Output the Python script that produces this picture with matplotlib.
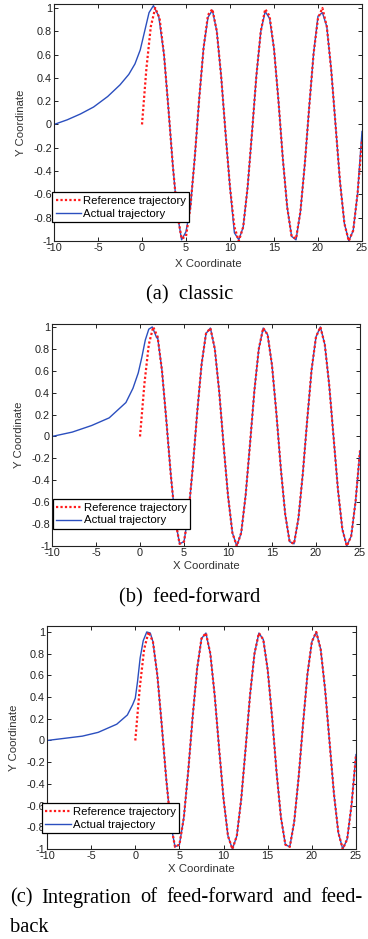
import numpy as np
import matplotlib.pyplot as plt

plt.rcParams['font.family'] = ['Liberation Sans', 'DejaVu Sans']
plt.rcParams['axes.unicode_minus'] = False

# reference trajectory (shared by all three panels)
ref_x = [0.0, 0.5, 1.0, 1.5, 2.0, 2.5, 3.0, 3.5, 4.0, 4.5, 5.0, 5.5, 6.0, 6.5, 7.0, 7.5,
         8.0, 8.5, 9.0, 9.5, 10.0, 10.5, 11.0, 11.5, 12.0, 12.5, 13.0, 13.5, 14.0, 14.5,
         15.0, 15.5, 16.0, 16.5, 17.0, 17.5, 18.0, 18.5, 19.0, 19.5, 20.0, 20.5, 21.0,
         21.5, 22.0, 22.5, 23.0, 23.5, 24.0, 24.5, 25.0]
ref_y = [0.00, 0.48, 0.84, 1.00, 0.91, 0.60, 0.14, -0.35, -0.76, -0.98, -0.96, -0.71,
         -0.28, 0.22, 0.66, 0.94, 0.99, 0.80, 0.41, -0.08, -0.54, -0.88, -1.00, -0.88,
         -0.54, -0.07, 0.42, 0.80, 0.99, 0.93, 0.65, 0.21, -0.29, -0.71, -0.96, -0.98,
         -0.75, -0.34, 0.15, 0.61, 0.91, 1.00, 0.84, 0.47, -0.01, -0.49, -0.85, -1.00,
         -0.91, -0.59, -0.13]

# actual trajectories: transient part, then tracking part
act_a_x = [-10, -8.5, -7, -5.5, -3.9, -2.5, -1.5, -0.8, -0.2, 0.3, 0.8, 1.3, 1.9, 2.5,
           3.0, 3.5, 4.0, 4.5, 5.0, 5.5, 6.0, 6.5, 7.0, 7.5, 8.0, 8.5, 9.0, 9.5, 10.0,
           10.5, 11.0, 11.5, 12.0, 12.5, 13.0, 13.5, 14.0, 14.5, 15.0, 15.5, 16.0, 16.5,
           17.0, 17.5, 18.0, 18.5, 19.0, 19.5, 20.0, 20.5, 21.0, 21.5, 22.0, 22.5, 23.0,
           23.5, 24.0, 24.5, 25.0]
act_a_y = [0.00, 0.04, 0.09, 0.15, 0.24, 0.34, 0.43, 0.52, 0.64, 0.80, 0.96, 1.02, 0.93,
           0.60, 0.14, -0.35, -0.76, -0.99, -0.92, -0.71, -0.28, 0.22, 0.66, 0.92, 0.98,
           0.80, 0.41, -0.08, -0.54, -0.93, -0.99, -0.88, -0.54, -0.07, 0.42, 0.80, 0.97,
           0.91, 0.65, 0.21, -0.29, -0.71, -0.96, -0.99, -0.75, -0.34, 0.15, 0.61, 0.93,
           0.96, 0.84, 0.47, -0.01, -0.49, -0.85, -1.00, -0.91, -0.59, -0.06]

act_b_x = [-10, -7.7, -5.5, -3.5, -1.6, -0.8, -0.2, 0.2, 0.6, 1.0, 1.4, 1.9]
act_b_y = [0.00, 0.04, 0.10, 0.17, 0.31, 0.44, 0.58, 0.72, 0.88, 0.98, 1.00, 0.90]

act_c_x = [-10, -8, -6, -4.2, -2.1, -0.9, -0.3, 0.0, 0.25, 0.55, 0.9, 1.3, 1.7, 2.0]
act_c_y = [0.00, 0.02, 0.04, 0.075, 0.15, 0.235, 0.33, 0.39, 0.54, 0.76, 0.92, 1.00,
           0.99, 0.91]

x_ticks = [-10, -5, 0, 5, 10, 15, 20, 25]
y_ticks = [-1, -0.8, -0.6, -0.4, -0.2, 0, 0.2, 0.4, 0.6, 0.8, 1]
y_tick_labels = ['-1', '-0.8', '-0.6', '-0.4', '-0.2', '0', '0.2', '0.4', '0.6', '0.8', '1']

cap_a = '(a)  classic'
cap_b = '(b)  feed-forward'
cap_c1 = ['(c)', 'Integration', 'of', 'feed-forward', 'and', 'feed-']
cap_c2 = 'back'


def tail(x0):
    # tracking part of the actual trajectory, after the transient
    xs = [x for x in ref_x if x > x0]
    ys = [y for x, y in zip(ref_x, ref_y) if x > x0]
    return xs, ys


tb_x, tb_y = tail(act_b_x[-1])
tc_x, tc_y = tail(act_c_x[-1])
series = [
    (act_a_x, act_a_y),
    (act_b_x + tb_x, act_b_y + tb_y),
    (act_c_x + tc_x, act_c_y + tc_y),
]

# axes boxes in pixels: left, top, right, bottom
boxes = [(54, 4, 362, 241), (52, 324, 360, 546), (47, 626, 356, 849)]
ytops = [1.034, 1.027, 1.055]
leg_anchor = [(-0.006, 0.08), (0.003, 0.077), (-0.016, 0.072)]
xlabel_pads = [4.5, 2.3, 2.3]

W, H = 368, 939
fig = plt.figure(figsize=(W / 100, H / 100), dpi=100)

for i, (ax_x, ax_y) in enumerate(series):
    l, t, r, b = boxes[i]
    ax = fig.add_axes([l / W, (H - b) / H, (r - l) / W, (b - t) / H])
    ax.plot(ref_x, ref_y, color='#ff1a1a', linestyle=(0, (1, 1)), linewidth=1.6,
            label='Reference trajectory', zorder=3)
    ax.plot(ax_x, ax_y, color='#2b4fbf', linewidth=1.0, label='Actual trajectory',
            zorder=2)
    ax.set_xlim(-10, 25)
    ax.set_ylim(-1, ytops[i])
    ax.set_xticks(x_ticks)
    ax.set_yticks(y_ticks)
    ax.set_yticklabels(y_tick_labels)
    ax.tick_params(direction='in', length=3, width=0.7, top=True, right=True,
                   labelsize=7.8, colors='#222222', pad=1.5)
    for s in ax.spines.values():
        s.set_linewidth(0.8)
        s.set_color('#222222')
    ax.set_xlabel('X Coordinate', fontsize=8.2, labelpad=xlabel_pads[i], color='#333333')
    ax.set_ylabel('Y Coordinate', fontsize=8.2, labelpad=5, color='#333333')
    leg = ax.legend(loc='lower left', bbox_to_anchor=leg_anchor[i], borderaxespad=0,
                    fontsize=8.2, frameon=True, fancybox=False, framealpha=1,
                    edgecolor='black', handlelength=2.2, handletextpad=0.2,
                    borderpad=0.3, labelspacing=0.25)
    leg.get_frame().set_linewidth(0.9)

cap_font = dict(family='Liberation Serif', fontsize=14.8)
fig.text(190 / W, 1 - 295 / H, cap_a, ha='center', va='center', **cap_font)
fig.text(190 / W, 1 - 598 / H, cap_b, ha='center', va='center', **cap_font)

# justified first line of caption (c): spread the words between x=10 and x=363
renderer = fig.canvas.get_renderer()
words = [fig.text(0, 1 - 898 / H, w, ha='left', va='center', **cap_font) for w in cap_c1]
widths = [w.get_window_extent(renderer).width for w in words]
gap = (363 - 10 - sum(widths)) / (len(words) - 1)
xpos = 10.0
for w, wd in zip(words, widths):
    w.set_x(xpos / W)
    xpos += wd + gap
fig.text(10 / W, 1 - 927 / H, cap_c2, ha='left', va='center', **cap_font)

fig.savefig('out.png', dpi=100)
